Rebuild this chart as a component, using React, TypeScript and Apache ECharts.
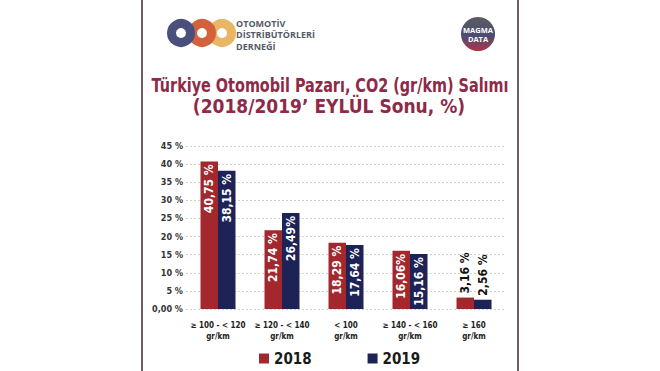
import React, { useEffect, useRef } from "react";
import * as echarts from "echarts";

const categories = [
  "≥ 100 - < 120\ngr/km",
  "≥ 120 - < 140\ngr/km",
  "< 100\ngr/km",
  "≥ 140 - < 160\ngr/km",
  "≥ 160\ngr/km",
];
const values2018 = [40.75, 21.74, 18.29, 16.06, 3.16];
const values2019 = [38.15, 26.49, 17.64, 15.16, 2.56];
const labels2018 = ["40,75 %", "21,74 %", "18,29 %", "16,06%", "3,16 %"];
const labels2019 = ["38,15 %", "26,49%", "17,64 %", "15,16 %", "2,56 %"];
const yTicks = [0, 5, 10, 15, 20, 25, 30, 35, 40, 45];
const logoLines = ["OTOMOTİV", "DİSTRİBÜTÖRLERİ", "DERNEĞİ"];

const RED = "#a3282e";
const BLUE = "#1d2257";
const FONT = "'DejaVu Sans Condensed', 'Noto Sans', sans-serif";

function makeData(vals: number[], labels: string[]) {
  return vals.map((v, i) => {
    const small = v < 8;
    return {
      value: v,
      label: small
        ? {
            show: true,
            position: "top",
            rotate: 90,
            align: "left",
            verticalAlign: "middle",
            distance: 4,
            color: "#111",
            formatter: labels[i],
          }
        : {
            show: true,
            position: "insideTop",
            rotate: 90,
            align: "right",
            verticalAlign: "middle",
            distance: 3,
            color: "#fff",
            formatter: labels[i],
          },
    };
  });
}

export default function App() {
  const ref = useRef<HTMLDivElement>(null);
  useEffect(() => {
    if (!ref.current) return;
    const chart = echarts.init(ref.current, undefined, { renderer: "svg" });
    const option: any = {
      animation: false,
      backgroundColor: "#ffffff",
      textStyle: { fontFamily: FONT },
      legend: {
        data: ["2018", "2019"],
        left: 254,
        top: 346,
        itemWidth: 10,
        itemHeight: 10,
        itemGap: 56,
        icon: "rect",
        textStyle: { fontSize: 15, fontWeight: "bold", color: "#1a1a1a", fontFamily: FONT },
      },
      grid: { left: 186, width: 320, top: 146, height: 163, containLabel: false },
      xAxis: {
        type: "category",
        data: categories,
        axisLine: { show: false },
        axisTick: { show: false },
        axisLabel: {
          interval: 0,
          color: "#222",
          fontSize: 8,
          fontWeight: "bold",
          margin: 11,
          lineHeight: 11,
          fontFamily: FONT,
        },
      },
      yAxis: {
        type: "value",
        min: 0,
        max: 45,
        interval: 5,
        axisLine: { show: false },
        axisTick: { show: false },
        axisLabel: {
          color: "#333",
          fontSize: 9,
          fontWeight: "bold",
          margin: 3,
          fontFamily: FONT,
          formatter: (v: number) => (yTicks.indexOf(v) === 0 ? "0,00 %" : v + " %"),
        },
        splitLine: { show: true, lineStyle: { color: "#d0d0d0", type: [2, 2], width: 1 } },
      },
      series: [
        {
          name: "2018",
          type: "bar",
          barWidth: 17.5,
          barGap: "0%",
          itemStyle: { color: RED },
          label: { fontSize: 12, fontWeight: "bold", fontFamily: FONT },
          data: makeData(values2018, labels2018),
        },
        {
          name: "2019",
          type: "bar",
          barWidth: 17.5,
          barGap: "0%",
          itemStyle: { color: BLUE },
          label: { fontSize: 12, fontWeight: "bold", fontFamily: FONT },
          data: makeData(values2019, labels2019),
        },
      ],
      graphic: [
        { type: "line", shape: { x1: 142, y1: 0, x2: 142, y2: 371 }, style: { stroke: "#3d2a30", lineWidth: 1.5 } },
        { type: "line", shape: { x1: 518, y1: 0, x2: 518, y2: 371 }, style: { stroke: "#3d2a30", lineWidth: 1.5 } },
        // ODD logo
        { type: "circle", shape: { cx: 222, cy: 33, r: 9.5 }, style: { fill: "none", stroke: "#e8b664", lineWidth: 9 } },
        { type: "circle", shape: { cx: 202, cy: 33, r: 9.5 }, style: { fill: "none", stroke: "#d2623c", lineWidth: 9 } },
        { type: "circle", shape: { cx: 181, cy: 33, r: 9.5 }, style: { fill: "none", stroke: "#4b4f7c", lineWidth: 9 } },
        ...logoLines.map((t, i) => ({
          type: "text",
          x: 236,
          y: 23 + i * 11.5,
          style: {
            text: t,
            fill: "#555a66",
            font: "bold 9px 'Open Sans', sans-serif",
            verticalAlign: "middle",
            lineHeight: 10,
          },
        })),
        // MAGMA DATA badge
        {
          type: "circle",
          shape: { cx: 478, cy: 34, r: 17 },
          style: {
            fill: new echarts.graphic.LinearGradient(0, 0, 0, 1, [
              { offset: 0, color: "#5c5c62" },
              { offset: 0.55, color: "#4a4c72" },
              { offset: 1, color: "#b0344a" },
            ]),
          },
        },
        {
          type: "text",
          x: 478,
          y: 30,
          style: { text: "MAGMA", fill: "#ffffff", font: "bold 7.5px 'Open Sans', sans-serif", align: "center", verticalAlign: "middle", lineHeight: 8 },
        },
        {
          type: "text",
          x: 478,
          y: 38.5,
          style: { text: "DATA", fill: "#ffffff", font: "bold 7.5px 'Open Sans', sans-serif", align: "center", verticalAlign: "middle", lineHeight: 8 },
        },
        // Title
        {
          type: "text",
          x: 330,
          y: 85,
          scaleX: 0.8,
          style: {
            text: "Türkiye Otomobil Pazarı, CO2 (gr/km) Salımı",
            fill: "#8e2a48",
            font: "bold 20px " + FONT,
            align: "center",
            verticalAlign: "middle",
          },
        },
        {
          type: "text",
          x: 329,
          y: 106,
          scaleX: 0.95,
          style: {
            text: "(2018/2019’ EYLÜL Sonu, %)",
            fill: "#8e2a48",
            font: "bold 20px " + FONT,
            align: "center",
            verticalAlign: "middle",
          },
        },
      ],
    };
    chart.setOption(option);
    return () => chart.dispose();
  }, []);
  return (
    <div
      ref={ref}
      style={{ position: "fixed", left: 0, top: 0, width: 660, height: 371, background: "#fff" }}
    />
  );
}
